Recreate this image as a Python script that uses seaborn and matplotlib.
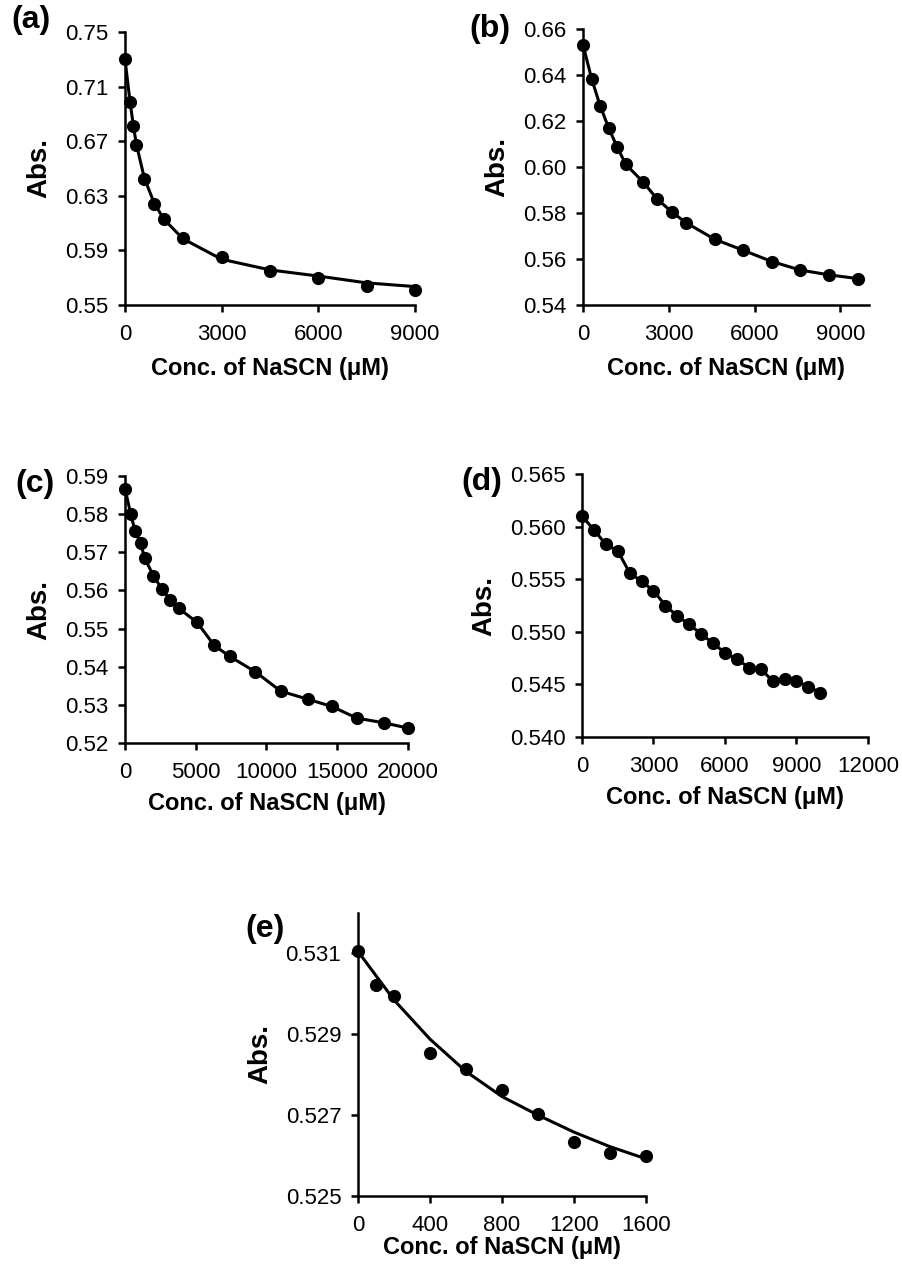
import numpy as np
import pandas as pd
import matplotlib
matplotlib.use("Agg")
import matplotlib.pyplot as plt
import seaborn as sns

# Titration data (x = conc. of NaSCN in uM, y = absorbance)
a_conc = [0, 150, 250, 350, 600, 900, 1200, 1800, 3000, 4500, 6000, 7500, 9000]
a_abs = [0.730, 0.699, 0.681, 0.667, 0.642, 0.624, 0.613, 0.599, 0.585, 0.575, 0.570, 0.564, 0.561]
a_fit = [0.730, 0.700, 0.683, 0.668, 0.643, 0.625, 0.613, 0.5985, 0.5835, 0.5757, 0.5712, 0.5662, 0.5635]

b_conc = [0, 300, 600, 900, 1200, 1500, 2100, 2600, 3100, 3600, 4600, 5600, 6600, 7600, 8600, 9600]
b_abs = [0.6532, 0.6384, 0.6266, 0.6169, 0.6085, 0.6011, 0.5935, 0.5860, 0.5805, 0.5758,
         0.5686, 0.5638, 0.5589, 0.5552, 0.5531, 0.5515]

c_conc = [0, 400, 700, 1100, 1400, 2000, 2600, 3200, 3800, 5100, 6300, 7400, 9200, 11000,
          12900, 14600, 16400, 18300, 20000]
c_abs = [0.5867, 0.5801, 0.5757, 0.5724, 0.5684, 0.5639, 0.5604, 0.5575, 0.5553, 0.5516,
         0.5456, 0.5427, 0.5387, 0.5336, 0.5315, 0.5296, 0.5265, 0.5253, 0.5239]

d_conc = [0, 500, 1000, 1500, 2000, 2500, 3000, 3500, 4000, 4500, 5000, 5500, 6000, 6500,
          7000, 7500, 8000, 8500, 9000, 9500, 10000]
d_abs = [0.5610, 0.5597, 0.5583, 0.5577, 0.5556, 0.5548, 0.5539, 0.5525, 0.5515, 0.5507,
         0.5498, 0.5489, 0.5480, 0.5474, 0.5466, 0.5465, 0.5453, 0.5455, 0.5453, 0.5448, 0.5442]

e_conc = [0, 100, 200, 400, 600, 800, 1000, 1200, 1400, 1600]
e_abs = [0.53107, 0.53021, 0.52995, 0.52854, 0.52814, 0.52762, 0.52703, 0.52633, 0.52606, 0.52600]
e_fit = [0.53105, 0.53045, 0.52985, 0.52888, 0.52808, 0.52746, 0.52700, 0.52658, 0.52622, 0.52592]

# axis ticks per panel
a_xticks = [0, 3000, 6000, 9000]
a_yticks = [0.55, 0.59, 0.63, 0.67, 0.71, 0.75]
b_xticks = [0, 3000, 6000, 9000]
b_yticks = [0.54, 0.56, 0.58, 0.60, 0.62, 0.64, 0.66]
c_xticks = [0, 5000, 10000, 15000, 20000]
c_yticks = [0.52, 0.53, 0.54, 0.55, 0.56, 0.57, 0.58, 0.59]
d_xticks = [0, 3000, 6000, 9000, 12000]
d_yticks = [0.540, 0.545, 0.550, 0.555, 0.560, 0.565]
e_xticks = [0, 400, 800, 1200, 1600]
e_yticks = [0.525, 0.527, 0.529, 0.531]

sns.set_theme(style="ticks")
plt.rcParams['font.family'] = ['Liberation Sans', 'DejaVu Sans']
for key in ['text.color', 'axes.labelcolor', 'xtick.color', 'ytick.color']:
    plt.rcParams[key] = 'black'

W, H = 903, 1264
fig = plt.figure(figsize=(W / 100, H / 100), dpi=100)


def add_axes_px(left, right, top, bottom):
    return fig.add_axes([left / W, 1 - bottom / H, (right - left) / W, (bottom - top) / H])


def draw_panel(ax, conc, absb, fit, xlim, ylim, xticks, yticks, yfmt, xlabelpad):
    line_y = fit if fit is not None else absb
    df = pd.DataFrame({"conc": conc, "abs": absb, "fit": line_y})
    sns.lineplot(data=df, x="conc", y="fit", ax=ax, color="black", lw=2.2,
                 estimator=None, sort=True, zorder=3)
    sns.scatterplot(data=df, x="conc", y="abs", ax=ax, color="black", s=90,
                    edgecolor="black", linewidth=0, zorder=4, clip_on=False)
    ax.set_xlim(*xlim)
    ax.set_ylim(*ylim)
    ax.set_xticks(xticks)
    ax.set_yticks(yticks)
    ax.set_xticklabels([str(t) for t in xticks])
    ax.set_yticklabels([yfmt.format(t) for t in yticks])
    for side in ["top", "right"]:
        ax.spines[side].set_visible(False)
    for side in ["left", "bottom"]:
        ax.spines[side].set_linewidth(1.8)
        ax.spines[side].set_color("black")
    ax.tick_params(axis="both", direction="out", length=5, width=1.8, colors="black",
                   labelsize=16, pad=7)
    ax.tick_params(axis="x", pad=9)
    ax.set_xlabel("Conc. of NaSCN (μM)", fontsize=17, fontweight="bold", labelpad=xlabelpad)
    ax.set_ylabel("Abs.", fontsize=20, fontweight="bold", labelpad=9)


ax_a = add_axes_px(125, 415, 32, 305)
draw_panel(ax_a, a_conc, a_abs, a_fit, (0, 9000), (0.55, 0.75), a_xticks, a_yticks, "{:.2f}", 8)

ax_b = add_axes_px(583, 869, 29, 305)
draw_panel(ax_b, b_conc, b_abs, None, (0, 10000), (0.54, 0.66), b_xticks, b_yticks, "{:.2f}", 8)

ax_c = add_axes_px(125, 408, 476, 743)
draw_panel(ax_c, c_conc, c_abs, None, (0, 20000), (0.52, 0.59), c_xticks, c_yticks, "{:.2f}", 6)

ax_d = add_axes_px(582, 868, 474, 737)
draw_panel(ax_d, d_conc, d_abs, None, (0, 12000), (0.540, 0.565), d_xticks, d_yticks, "{:.3f}", 6)

ax_e = add_axes_px(358, 646, 913, 1196)
draw_panel(ax_e, e_conc, e_abs, e_fit, (0, 1600), (0.525, 0.532), e_xticks, e_yticks, "{:.3f}", 0)

# panel letters
for label, x, y in [("(a)", 11, 20), ("(b)", 469, 29), ("(c)", 15, 484),
                    ("(d)", 461, 482), ("(e)", 245, 929)]:
    fig.text(x / W, 1 - y / H, label, fontsize=23, fontweight="bold",
             ha="left", va="center")

fig.savefig("out.png", dpi=100)
